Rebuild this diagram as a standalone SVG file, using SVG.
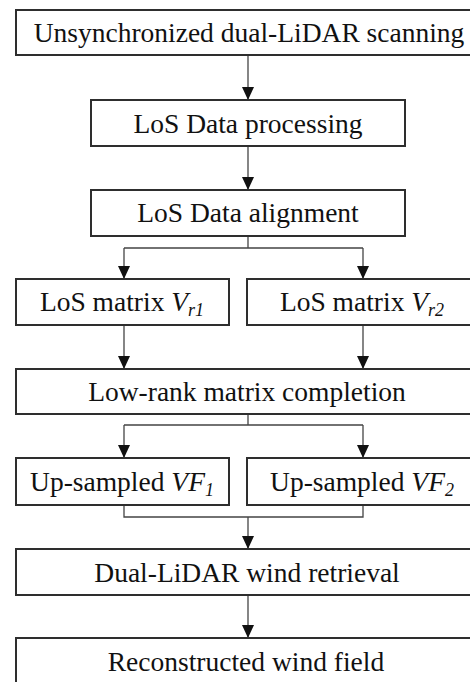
<svg xmlns="http://www.w3.org/2000/svg" width="470" height="682" viewBox="0 0 470 682">
<style>
.box{fill:#fff;stroke:#2e2e2e;stroke-width:2}
.t{font-family:'Liberation Serif','Times New Roman',Times,'DejaVu Serif',serif;font-size:27.5px;fill:#111;text-anchor:middle}
.i{font-style:italic}
.c{fill:none;stroke:#444;stroke-width:1.3}
</style>
<defs>
<marker id="ah" markerUnits="userSpaceOnUse" markerWidth="13" markerHeight="12" refX="13" refY="6" orient="auto">
<path d="M0,0 L13,6 L0,12 z" fill="#111"/>
</marker>
</defs>
<rect width="470" height="682" fill="#fff"/>
<g id="connectors">
<path class="c" d="M248,55 V100" marker-end="url(#ah)"/>
<path class="c" d="M248,146 V190" marker-end="url(#ah)"/>
<path class="c" d="M248,236 V248 M124,248 H363"/>
<path class="c" d="M124,248 V279" marker-end="url(#ah)"/>
<path class="c" d="M363,248 V279" marker-end="url(#ah)"/>
<path class="c" d="M124,325 V369" marker-end="url(#ah)"/>
<path class="c" d="M363,325 V369" marker-end="url(#ah)"/>
<path class="c" d="M248,414 V425 M124,425 H363"/>
<path class="c" d="M124,425 V458" marker-end="url(#ah)"/>
<path class="c" d="M363,425 V458" marker-end="url(#ah)"/>
<path class="c" d="M124,505 V517 H363 V505"/>
<path class="c" d="M248,517 V549" marker-end="url(#ah)"/>
<path class="c" d="M248,595 V638" marker-end="url(#ah)"/>
</g>
<g id="n1"><rect class="box" x="16" y="10" width="456" height="45"/><text class="t" x="249" y="42">Unsynchronized dual-LiDAR scanning</text></g>
<g id="n2"><rect class="box" x="91" y="100" width="314" height="46"/><text class="t" x="248" y="133">LoS Data processing</text></g>
<g id="n3"><rect class="box" x="91" y="190" width="314" height="46"/><text class="t" x="248" y="222">LoS Data alignment</text></g>
<g id="n4"><rect class="box" x="16" y="279" width="213" height="46"/><text class="t" x="122" y="311">LoS matrix <tspan class="i">V</tspan><tspan class="i" font-size="18" dy="5">r1</tspan></text></g>
<g id="n5"><rect class="box" x="247" y="279" width="225" height="46"/><text class="t" x="362" y="311">LoS matrix <tspan class="i">V</tspan><tspan class="i" font-size="18" dy="5">r2</tspan></text></g>
<g id="n6"><rect class="box" x="16" y="369" width="456" height="45"/><text class="t" x="247" y="401">Low-rank matrix completion</text></g>
<g id="n7"><rect class="box" x="16" y="458" width="213" height="47"/><text class="t" x="122" y="491">Up-sampled <tspan class="i">VF</tspan><tspan class="i" font-size="18" dy="5">1</tspan></text></g>
<g id="n8"><rect class="box" x="247" y="458" width="225" height="47"/><text class="t" x="362" y="491">Up-sampled <tspan class="i">VF</tspan><tspan class="i" font-size="18" dy="5">2</tspan></text></g>
<g id="n9"><rect class="box" x="16" y="549" width="456" height="46"/><text class="t" x="247" y="582">Dual-LiDAR wind retrieval</text></g>
<g id="n10"><rect class="box" x="16" y="638" width="456" height="50"/><text class="t" x="246" y="671">Reconstructed wind field</text></g>
</svg>
